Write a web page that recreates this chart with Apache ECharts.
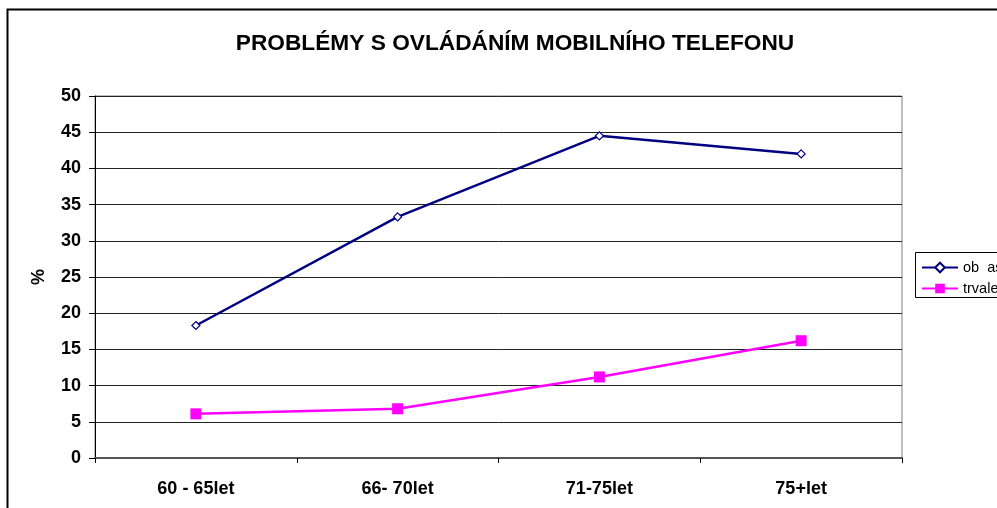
<!DOCTYPE html>
<html>
<head>
<meta charset="utf-8">
<title>Problémy s ovládáním mobilního telefonu</title>
<script src="https://cdn.jsdelivr.net/npm/echarts@6/dist/echarts.min.js"></script>
<style>
  html, body { margin: 0; padding: 0; background: #fff; }
  #chart { width: 997px; height: 508px; }
</style>
</head>
<body>
<div id="chart"></div>
<script>
const categories = ['60 - 65let', '66- 70let', '71-75let', '75+let'];
const obcas = [18.3, 33.3, 44.5, 42.0];
const trvale = [6.1, 6.8, 11.2, 16.2];
const yTicks = [0, 5, 10, 15, 20, 25, 30, 35, 40, 45, 50];

const myChart = echarts.init(document.getElementById('chart'));
const font = 'Liberation Sans, Arial, sans-serif';

const option = {
  animation: false,
  title: {
    text: 'PROBLÉMY S OVLÁDÁNÍM MOBILNÍHO TELEFONU',
    left: 510,
    textAlign: 'center',
    top: 27,
    textStyle: { fontFamily: font, fontSize: 22.7, fontWeight: 'bold', color: '#000' }
  },
  graphic: [
    {
      type: 'rect',
      shape: { x: 7.5, y: 9.5, width: 1000, height: 520 },
      style: { fill: 'none', stroke: '#000', lineWidth: 2 }
    },
    {
      type: 'rect',
      shape: { x: 915.5, y: 252.5, width: 100, height: 45 },
      style: { fill: '#fff', stroke: '#000', lineWidth: 1 }
    }
  ],
  legend: {
    orient: 'vertical',
    left: 916,
    top: 255,
    itemGap: 6,
    itemWidth: 36,
    itemHeight: 12,
    textStyle: { fontFamily: font, fontSize: 14.5, color: '#000' },
    data: ['ob  as', 'trvale']
  },
  grid: {
    left: 95,
    right: 95,
    top: 96,
    bottom: 50,
    show: true,
    borderColor: '#808080',
    borderWidth: 1
  },
  xAxis: {
    type: 'category',
    data: categories,
    boundaryGap: true,
    axisLine: { lineStyle: { color: '#555', width: 2 } },
    axisTick: { show: true, length: 5, lineStyle: { color: '#000' } },
    axisLabel: { fontFamily: font, fontSize: 18, fontWeight: 'bold', color: '#000', margin: 22 }
  },
  yAxis: {
    type: 'value',
    min: yTicks[0],
    max: yTicks[yTicks.length - 1],
    interval: 5,
    name: '%',
    nameLocation: 'middle',
    nameRotate: 90,
    nameGap: 47,
    nameTextStyle: { fontFamily: font, fontSize: 18, fontWeight: 'bold', color: '#000' },
    axisLine: { show: true, lineStyle: { color: '#000', width: 1 } },
    axisTick: { show: true, length: 6, lineStyle: { color: '#000' } },
    axisLabel: { fontFamily: font, fontSize: 18, fontWeight: 'bold', color: '#000', margin: 14 },
    splitLine: { lineStyle: { color: '#222', width: 1 } }
  },
  series: [
    {
      name: 'ob  as',
      type: 'line',
      data: obcas,
      symbol: 'diamond',
      symbolSize: 8,
      showAllSymbol: true,
      lineStyle: { color: '#000080', width: 2.5 },
      itemStyle: { color: '#fff', borderColor: '#000080', borderWidth: 1.2 }
    },
    {
      name: 'trvale',
      type: 'line',
      data: trvale,
      symbol: 'rect',
      symbolSize: 11,
      lineStyle: { color: '#ff00ff', width: 2.5 },
      itemStyle: { color: '#ff00ff' }
    }
  ]
};

myChart.setOption(option);

window.addEventListener('resize', function () {
  myChart.resize();
});
</script>
</body>
</html>
